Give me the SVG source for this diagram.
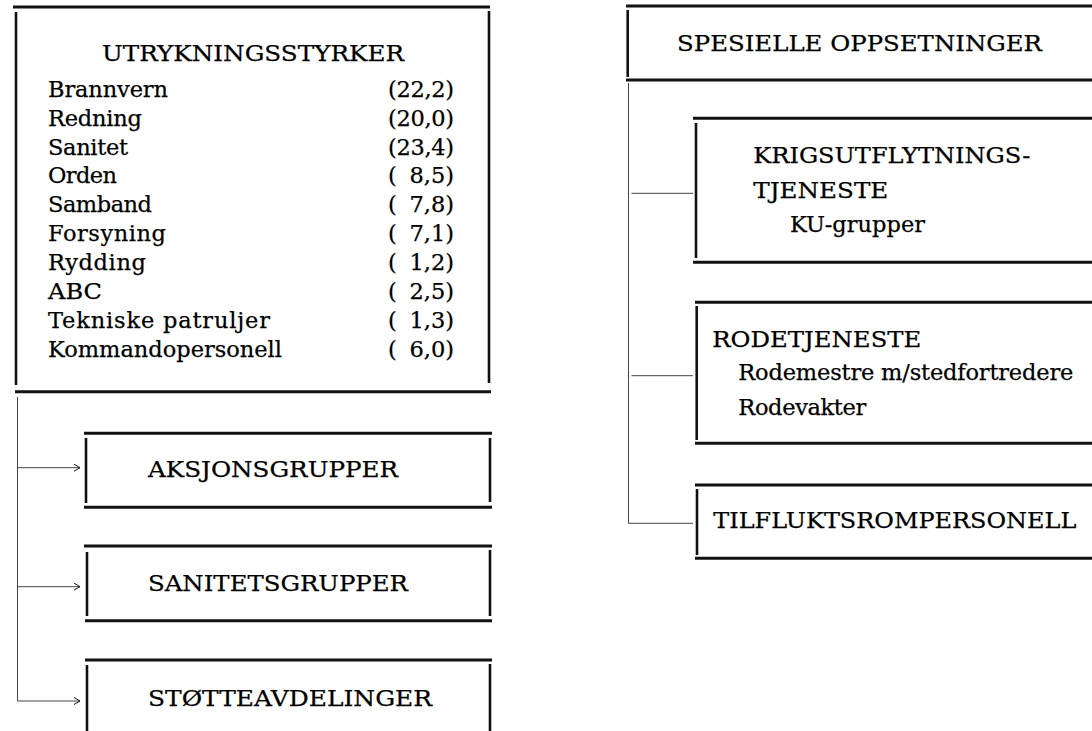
<svg xmlns="http://www.w3.org/2000/svg" width="1092" height="731" viewBox="0 0 1092 731">
<style>
.t{font-family:"DejaVu Serif","Liberation Serif",serif;font-size:22.5px;fill:#000;stroke:#000;stroke-width:0.25}
.b{stroke:#111;stroke-width:3;fill:none}
.v{stroke:#111;stroke-width:2.6;fill:none}
.c{stroke:#444;stroke-width:1;fill:none}
</style>
<defs>
<marker id="arr" markerWidth="9" markerHeight="9" refX="7" refY="4" orient="auto" markerUnits="userSpaceOnUse">
<path d="M1,0.5 L7,4 L1,7.5" fill="none" stroke="#111" stroke-width="1"/>
</marker>
</defs>
<rect width="1092" height="731" fill="#fff"/>

<g id="connectors">
<path class="c" d="M17.5,397 V701"/>
<path class="c" d="M18,467.7 H80" marker-end="url(#arr)"/>
<path class="c" d="M18,586.7 H80" marker-end="url(#arr)"/>
<path class="c" d="M17.5,701 H80" marker-end="url(#arr)"/>
<path class="c" d="M628.5,83 V523.3 H693"/>
<path class="c" d="M631.5,193.3 H693"/>
<path class="c" d="M631.5,375.7 H693"/>
</g>

<g id="utrykningsstyrker">
<path class="b" d="M13,7 H490"/>
<path class="v" d="M16,12 V385"/>
<path class="v" d="M489,11 V383"/>
<path class="b" d="M15,391.7 H491"/>
<text class="t" x="102" y="61" textLength="302" lengthAdjust="spacingAndGlyphs">UTRYKNINGSSTYRKER</text>
<text class="t" x="48" y="96.7" textLength="120">Brannvern</text>
<text class="t" x="48" y="125.6" textLength="94">Redning</text>
<text class="t" x="48" y="154.5" textLength="80">Sanitet</text>
<text class="t" x="48" y="183.4" textLength="69">Orden</text>
<text class="t" x="48" y="212.3" textLength="104">Samband</text>
<text class="t" x="48" y="241.2" textLength="118">Forsyning</text>
<text class="t" x="48" y="270.1" textLength="98">Rydding</text>
<text class="t" x="48" y="299" textLength="54" lengthAdjust="spacingAndGlyphs">ABC</text>
<text class="t" x="48" y="327.9" textLength="222">Tekniske  patruljer</text>
<text class="t" x="48" y="356.8" textLength="234">Kommandopersonell</text>
<g text-anchor="end">
<text class="t" x="454" y="96.7" textLength="66">(22,2)</text>
<text class="t" x="454" y="125.6" textLength="66">(20,0)</text>
<text class="t" x="454" y="154.5" textLength="66">(23,4)</text>
<text class="t" x="454" y="183.4">8,5)</text>
<text class="t" x="454" y="212.3">7,8)</text>
<text class="t" x="454" y="241.2">7,1)</text>
<text class="t" x="454" y="270.1">1,2)</text>
<text class="t" x="454" y="299">2,5)</text>
<text class="t" x="454" y="327.9">1,3)</text>
<text class="t" x="454" y="356.8">6,0)</text>
</g>
<text class="t" x="388" y="183.4">(</text>
<text class="t" x="388" y="212.3">(</text>
<text class="t" x="388" y="241.2">(</text>
<text class="t" x="388" y="270.1">(</text>
<text class="t" x="388" y="299">(</text>
<text class="t" x="388" y="327.9">(</text>
<text class="t" x="388" y="356.8">(</text>
</g>

<g id="aksjonsgrupper">
<path class="b" d="M84,433.3 H492"/>
<path class="v" d="M86,438 V503"/>
<path class="v" d="M490,438 V502"/>
<path class="b" d="M84,507.3 H492"/>
<text class="t" x="148" y="477.3" textLength="250" lengthAdjust="spacingAndGlyphs">AKSJONSGRUPPER</text>
</g>

<g id="sanitetsgrupper">
<path class="b" d="M84,546 H492"/>
<path class="v" d="M87,552 V616"/>
<path class="v" d="M490,550 V616"/>
<path class="b" d="M85,620.7 H492"/>
<text class="t" x="148" y="590.7" textLength="260" lengthAdjust="spacingAndGlyphs">SANITETSGRUPPER</text>
</g>

<g id="stotteavdelinger">
<path class="b" d="M85,660 H492"/>
<path class="v" d="M87,665 V731"/>
<path class="v" d="M490,664 V731"/>
<text class="t" x="148" y="705.7" textLength="284" lengthAdjust="spacingAndGlyphs">STØTTEAVDELINGER</text>
</g>

<g id="spesielle-oppsetninger">
<path class="b" d="M626,6 H1092"/>
<path class="v" d="M627.7,10 V77"/>
<path class="b" d="M626,80 H1092"/>
<text class="t" x="677" y="50.5" textLength="365" lengthAdjust="spacingAndGlyphs">SPESIELLE  OPPSETNINGER</text>
</g>

<g id="krigsutflytningstjeneste">
<path class="b" d="M693,118.3 H1092"/>
<path class="v" d="M696,123 V258"/>
<path class="b" d="M693,262.3 H1092"/>
<text class="t" x="753.3" y="163.3" textLength="277" lengthAdjust="spacingAndGlyphs">KRIGSUTFLYTNINGS-</text>
<text class="t" x="753.3" y="197.7" textLength="135" lengthAdjust="spacingAndGlyphs">TJENESTE</text>
<text class="t" x="790" y="232" textLength="135">KU-grupper</text>
</g>

<g id="rodetjeneste">
<path class="b" d="M695,302.3 H1092"/>
<path class="v" d="M696.7,306 V440"/>
<path class="b" d="M695,443.3 H1092"/>
<text class="t" x="712.3" y="346.7" textLength="209" lengthAdjust="spacingAndGlyphs">RODETJENESTE</text>
<text class="t" x="738.3" y="380" textLength="335">Rodemestre m/stedfortredere</text>
<text class="t" x="738.3" y="415" textLength="128">Rodevakter</text>
</g>

<g id="tilfluktsrompersonell">
<path class="b" d="M695,485 H1092"/>
<path class="v" d="M697,489 V555"/>
<path class="b" d="M695,558.3 H1092"/>
<text class="t" x="713.3" y="528.3" textLength="363" lengthAdjust="spacingAndGlyphs">TILFLUKTSROMPERSONELL</text>
</g>
</svg>
